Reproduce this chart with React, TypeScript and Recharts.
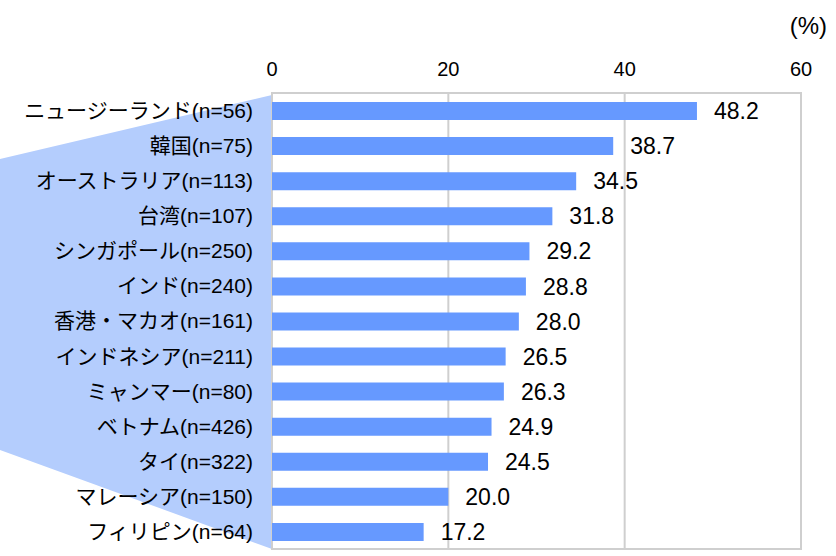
import React from 'react';
import { BarChart, Bar, XAxis, YAxis, CartesianGrid, LabelList, ReferenceArea } from 'recharts';

const countries = [
  'ニュージーランド(n=56)',
  '韓国(n=75)',
  'オーストラリア(n=113)',
  '台湾(n=107)',
  'シンガポール(n=250)',
  'インド(n=240)',
  '香港・マカオ(n=161)',
  'インドネシア(n=211)',
  'ミャンマー(n=80)',
  'ベトナム(n=426)',
  'タイ(n=322)',
  'マレーシア(n=150)',
  'フィリピン(n=64)',
];

const shares = [48.2, 38.7, 34.5, 31.8, 29.2, 28.8, 28.0, 26.5, 26.3, 24.9, 24.5, 20.0, 17.2];

const xTicks = [0, 20, 40, 60];

const FONT = '"Liberation Sans", Arial, "Noto Sans CJK JP", sans-serif';
const BAR_COLOR = '#6699ff';
const FAN_COLOR = '#b4cdfd';
const GRID_COLOR = '#cfcfcf';

const data = countries.map((name, i) => ({ name, value: shares[i] }));

export default function App() {
  return (
    <div style={{ position: 'absolute', left: 0, top: 0, width: 836, height: 556, background: '#fff', fontFamily: FONT }}>
      {/* light blue fan behind the category labels */}
      <svg width={836} height={556} style={{ position: 'absolute', left: 0, top: 0 }}>
        <polygon points="0,159 272,95 272,549 0,450" fill={FAN_COLOR} />
      </svg>
      <div style={{ position: 'absolute', right: 9, top: 12, fontSize: 24, lineHeight: '28px', color: '#000' }}>(%)</div>
      <div style={{ position: 'absolute', left: 0, top: 0 }}>
        <BarChart
          width={836}
          height={556}
          data={data}
          layout="vertical"
          margin={{ top: 63, right: 35, bottom: 7, left: 0 }}
          barSize={18}
        >
          <CartesianGrid horizontal={false} stroke={GRID_COLOR} strokeWidth={2} />
          <ReferenceArea x1={0} x2={60} fill="none" stroke={GRID_COLOR} strokeWidth={2} />
          <XAxis
            type="number"
            orientation="top"
            domain={[0, 60]}
            ticks={xTicks}
            height={30}
            axisLine={false}
            tickLine={false}
            tickSize={0}
            tickMargin={17}
            tick={{ fill: '#000', fontSize: 20, fontFamily: FONT }}
          />
          <YAxis
            type="category"
            dataKey="name"
            width={272}
            axisLine={false}
            tickLine={false}
            tickSize={0}
            tickMargin={19}
            interval={0}
            tick={{ fill: '#000', fontSize: 21, fontFamily: FONT }}
          />
          <Bar dataKey="value" fill={BAR_COLOR} isAnimationActive={false}>
            <LabelList
              dataKey="value"
              position="right"
              offset={17}
              formatter={(v: number) => v.toFixed(1)}
              style={{ fill: '#000', fontSize: 23, fontFamily: FONT }}
            />
          </Bar>
        </BarChart>
      </div>
    </div>
  );
}
